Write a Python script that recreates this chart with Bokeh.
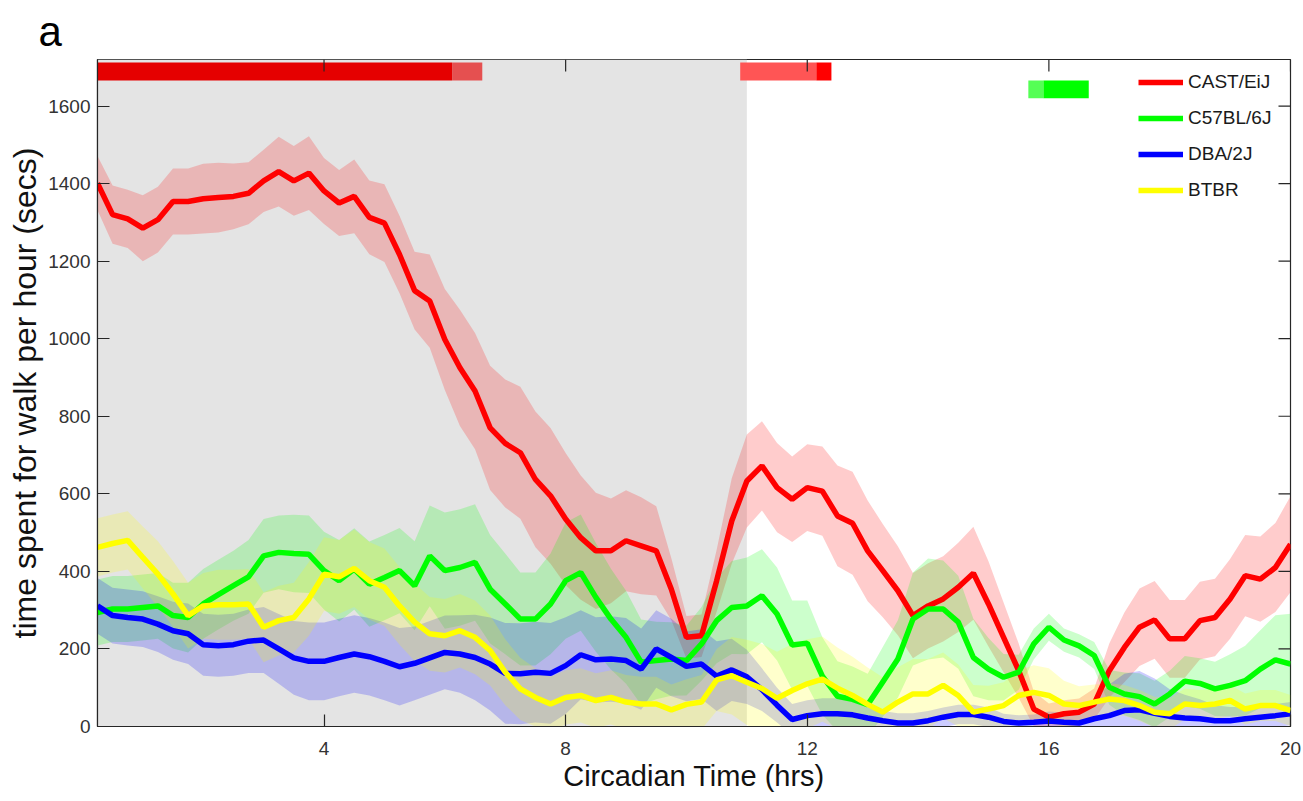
import numpy as np
from bokeh.plotting import figure
from bokeh.models import FixedTicker, Legend, LegendItem, Range1d
from bokeh.embed import file_html
from bokeh.resources import INLINE

# Circadian time grid (hours), 15-minute bins
hours = np.arange(1, 81) * 0.25

strains = ["CAST/EiJ", "C57BL/6J", "DBA/2J", "BTBR"]
strain_colors = ["#FF0000", "#00FF00", "#0000FF", "#FFFF00"]

# Mean walking time per hour (secs)
cast_mean = [1401, 1320, 1309, 1285, 1307, 1354, 1354, 1361, 1364, 1367, 1375, 1407,
             1431, 1407, 1427, 1381, 1350, 1367, 1313, 1298, 1217, 1124, 1097, 998,
             925, 865, 770, 730, 706, 637, 595, 535, 487, 453, 453, 479,
             466, 453, 354, 230, 234, 376, 530, 633, 672, 616, 586, 616,
             607, 543, 524, 453, 402, 350, 286, 311, 329, 359, 395, 316,
             230, 144, 45, 24, 33, 37, 58, 144, 204, 256, 275, 226,
             226, 273, 281, 329, 389, 380, 410, 470]
c57_mean = [294, 303, 303, 307, 311, 286, 281, 316, 340, 363, 386, 440,
            449, 446, 444, 402, 376, 406, 367, 384, 402, 363, 440, 402,
            410, 423, 354, 316, 277, 277, 316, 376, 397, 333, 277, 230,
            166, 170, 174, 170, 213, 273, 307, 311, 337, 290, 210, 215,
            130, 78, 70, 56, 115, 174, 277, 303, 303, 269, 178, 148,
            127, 140, 213, 256, 223, 208, 183, 101, 84, 77, 58, 84,
            117, 111, 97, 106, 118, 148, 172, 161]
dba_mean = [311, 286, 281, 277, 264, 247, 239, 211, 208, 211, 220, 223,
            200, 177, 168, 168, 178, 187, 180, 168, 154, 163, 177, 191,
            187, 178, 161, 137, 136, 140, 137, 157, 185, 172, 174, 170,
            148, 200, 178, 155, 161, 130, 146, 128, 95, 55, 18, 28,
            33, 33, 30, 22, 15, 9, 9, 15, 24, 31, 31, 24,
            13, 9, 11, 14, 11, 9, 20, 28, 41, 43, 34, 26,
            22, 20, 15, 15, 20, 24, 28, 33]
btbr_mean = [462, 472, 480, 436, 393, 342, 286, 311, 314, 314, 316, 256,
             273, 281, 329, 393, 386, 408, 376, 359, 311, 269, 239, 234,
             247, 230, 196, 140, 97, 75, 58, 75, 80, 67, 75, 63,
             58, 58, 43, 57, 63, 120, 131, 114, 98, 73, 93, 110,
             122, 99, 80, 57, 37, 63, 84, 84, 106, 80, 37, 45,
             54, 80, 88, 80, 58, 54, 63, 71, 67, 54, 37, 33,
             58, 54, 58, 67, 45, 54, 54, 41]

# Standard error of the mean (secs)
cast_sem = [70, 75, 75, 85, 85, 85, 85, 90, 90, 85, 80, 80,
            90, 90, 95, 85, 85, 95, 95, 100, 100, 100, 120, 130,
            150, 150, 160, 165, 170, 175, 175, 170, 160, 150, 135, 130,
            125, 115, 80, 55, 55, 80, 110, 120, 115, 115, 110, 112,
            115, 130, 133, 130, 120, 115, 110, 110, 110, 115, 120, 110,
            90, 70, 45, 35, 35, 35, 40, 70, 90, 100, 100, 100,
            100, 100, 100, 103, 105, 110, 115, 124]
c57_sem = [85, 85, 85, 85, 85, 85, 90, 90, 90, 90, 95, 95,
           95, 100, 100, 100, 105, 105, 110, 110, 110, 115, 130, 150,
           150, 150, 140, 130, 120, 120, 130, 150, 150, 140, 130, 120,
           110, 100, 95, 90, 95, 110, 120, 125, 120, 120, 115, 110,
           100, 90, 85, 80, 90, 100, 120, 130, 125, 120, 100, 80,
           60, 45, 40, 35, 30, 30, 35, 45, 55, 60, 60, 60,
           65, 65, 70, 80, 90, 100, 115, 130]
dba_sem = [72, 72, 72, 72, 72, 75, 78, 80, 80, 80, 82, 85,
           90, 95, 100, 100, 100, 100, 100, 100, 100, 95, 95, 95,
           100, 110, 120, 130, 130, 130, 130, 125, 115, 110, 110, 110,
           105, 100, 100, 90, 90, 90, 80, 70, 55, 45, 40, 40,
           40, 40, 35, 30, 25, 25, 25, 25, 25, 25, 25, 25,
           20, 20, 20, 25, 25, 30, 50, 80, 95, 100, 90, 70,
           60, 50, 40, 35, 30, 30, 30, 30]
btbr_sem = [75, 75, 75, 80, 85, 85, 85, 85, 90, 90, 90, 90,
            90, 90, 95, 95, 95, 100, 100, 100, 100, 100, 95, 95,
            95, 95, 90, 85, 80, 75, 70, 70, 70, 70, 70, 70,
            70, 70, 65, 65, 70, 80, 100, 110, 115, 120, 120, 115,
            110, 105, 100, 95, 90, 90, 90, 90, 85, 80, 70, 60,
            60, 65, 70, 70, 60, 50, 45, 40, 40, 40, 40, 40,
            40, 40, 40, 40, 40, 40, 40, 40]

means = [cast_mean, c57_mean, dba_mean, btbr_mean]
sems = [cast_sem, c57_sem, dba_sem, btbr_sem]

# Dark phase shading (hours)
dark_start, dark_end = 0.25, 11.0

# Significance bars along the top: CAST/EiJ row and C57BL/6J row
cast_sig_start = [0.25, 6.12, 10.89, 12.15]
cast_sig_end = [6.12, 6.62, 12.15, 12.40]
cast_sig_color = ["#E50000", "#E55050", "#FF5555", "#FF0000"]
cast_row = (1666, 1712)
c57_sig_start = [15.66, 15.91]
c57_sig_end = [15.91, 16.66]
c57_sig_color = ["#55FF55", "#00FF00"]
c57_row = (1620, 1666)

x_ticks = [4, 8, 12, 16, 20]
y_ticks = [0, 200, 400, 600, 800, 1000, 1200, 1400, 1600]
x_lo, x_hi = 0.25, 20
y_top = 1720

AX = "#262626"
FONT = "Liberation Sans"
FRAME_W, FRAME_H = 1193, 668
TICK_LEN = 12  # px, inward

p = figure(width=1303, height=801, x_range=Range1d(x_lo, x_hi), y_range=Range1d(0, y_top),
           output_backend="svg", toolbar_location=None,
           min_border_left=97, min_border_right=13, min_border_top=58, min_border_bottom=75)
p.background_fill_color = "white"
p.border_fill_color = "white"
p.outline_line_color = AX
p.outline_line_width = 1.2
p.xgrid.grid_line_color = None
p.ygrid.grid_line_color = None

p.title.text = "a"
p.title.text_font = FONT
p.title.text_font_size = "42px"
p.title.text_font_style = "normal"
p.title.text_color = "#000000"
p.title.align = "left"
p.title.offset = -59
p.title.standoff = 10

for ax in (p.xaxis[0], p.yaxis[0]):
    ax.major_tick_in = TICK_LEN
    ax.major_tick_out = 0
    ax.minor_tick_line_color = None
    ax.axis_line_color = AX
    ax.axis_line_width = 1.2
    ax.major_tick_line_color = AX
    ax.major_tick_line_width = 1.2
    ax.major_label_text_color = "#333333"
    ax.major_label_text_font = FONT
    ax.major_label_text_font_size = "19px"
    ax.axis_label_text_font = FONT
    ax.axis_label_text_font_style = "normal"
    ax.axis_label_text_color = "#111111"
p.xaxis.ticker = FixedTicker(ticks=x_ticks)
p.yaxis.ticker = FixedTicker(ticks=y_ticks)
p.xaxis.major_label_standoff = 15
p.yaxis.major_label_standoff = 7
p.xaxis.axis_label = "Circadian Time (hrs)"
p.xaxis.axis_label_text_font_size = "29px"
p.xaxis.axis_label_standoff = 2
p.yaxis.axis_label = "time spent for walk per hour (secs)"
p.yaxis.axis_label_text_font_size = "32px"
p.yaxis.axis_label_standoff = 2

# Dark phase
p.quad(left=[dark_start], right=[dark_end], bottom=[0], top=[y_top],
       fill_color="#E4E4E4", line_color=None)

# Significance bars
p.quad(left=cast_sig_start, right=cast_sig_end, bottom=cast_row[0], top=cast_row[1],
       fill_color=cast_sig_color, line_color=None)
p.quad(left=c57_sig_start, right=c57_sig_end, bottom=c57_row[0], top=c57_row[1],
       fill_color=c57_sig_color, line_color=None)

# SEM bands
for m, s, c in zip(means, sems, strain_colors):
    m = np.array(m, dtype=float)
    s = np.array(s, dtype=float)
    p.varea(x=hours, y1=m - s, y2=m + s, fill_color=c, fill_alpha=0.2)

# Mean traces
line_renderers = []
for m, c in zip(means, strain_colors):
    r = p.line(hours, m, line_color=c, line_width=5.5)
    line_renderers.append(r)

# Mirrored inward ticks on the top and right edges of the box
dx = TICK_LEN * (x_hi - x_lo) / FRAME_W
dy = TICK_LEN * y_top / FRAME_H
p.segment(x0=x_ticks, y0=[y_top] * len(x_ticks), x1=x_ticks, y1=[y_top - dy] * len(x_ticks),
          line_color=AX, line_width=1.2)
p.segment(x0=[x_hi] * len(y_ticks), y0=y_ticks, x1=[x_hi - dx] * len(y_ticks), y1=y_ticks,
          line_color=AX, line_width=1.2)

legend = Legend(items=[LegendItem(label=n, renderers=[r]) for n, r in zip(strains, line_renderers)],
                location=(1041, 523))
legend.glyph_width = 45
legend.glyph_height = 26
legend.label_height = 26
legend.spacing = 10
legend.padding = 0
legend.margin = 0
legend.label_standoff = 5
legend.border_line_color = None
legend.background_fill_alpha = 0
legend.label_text_font = FONT
legend.label_text_font_size = "19px"
legend.label_text_color = "#1a1a1a"
p.add_layout(legend)

open("out.html", "w").write(file_html(p, INLINE))
